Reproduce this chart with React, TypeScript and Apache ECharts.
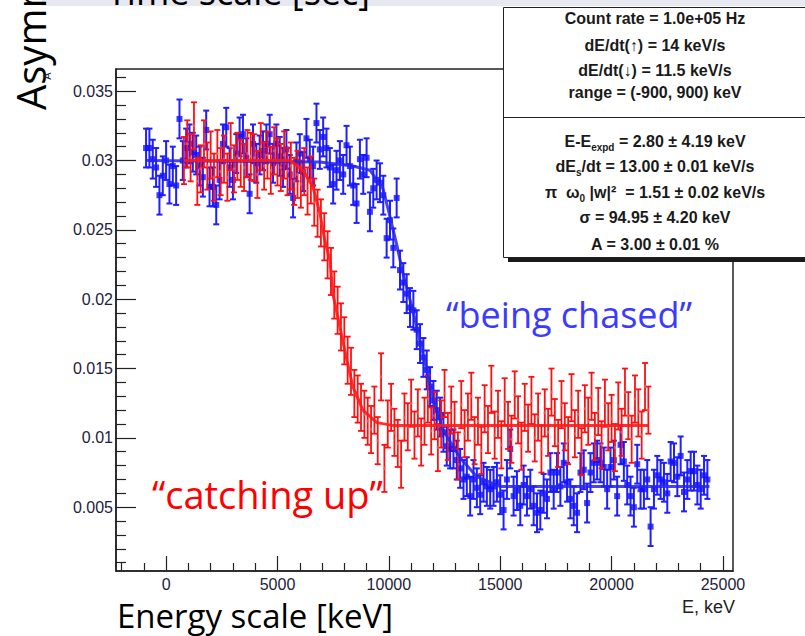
import React, { useEffect, useRef } from "react";
import * as echarts from "echarts";

// ---- data (E in keV, asymmetry) ----
const blueData: [number, number][] = [
  [-900,0.0309],[-750,0.0309],[-600,0.0301],[-450,0.0295],[-300,0.0275],[-150,0.0289],[0,0.0300],[150,0.0283],[300,0.0296],[450,0.0282],
  [600,0.0330],[750,0.0300],[900,0.0309],[1050,0.0312],[1200,0.0306],[1350,0.0304],[1500,0.0296],[1650,0.0288],[1800,0.0322],[1950,0.0281],
  [2100,0.0281],[2250,0.0268],[2400,0.0286],[2550,0.0312],[2700,0.0324],[2850,0.0295],[3000,0.0286],[3150,0.0305],[3300,0.0317],[3450,0.0319],
  [3600,0.0302],[3750,0.0276],[3900,0.0312],[4050,0.0298],[4200,0.0304],[4350,0.0307],[4500,0.0312],[4650,0.0319],[4800,0.0298],[4950,0.0312],
  [5100,0.0303],[5250,0.0295],[5400,0.0308],[5550,0.0290],[5700,0.0273],[5850,0.0299],[6000,0.0305],[6150,0.0292],[6300,0.0316],[6450,0.0301],
  [6600,0.0296],[6750,0.0327],[6900,0.0308],[7050,0.0317],[7200,0.0309],[7350,0.0295],[7500,0.0283],[7650,0.0293],[7800,0.0300],[7950,0.0290],
  [8100,0.0311],[8250,0.0296],[8400,0.0282],[8550,0.0269],[8700,0.0301],[8850,0.0290],[9000,0.0302],[9150,0.0263],[9300,0.0280],[9450,0.0286],
  [9600,0.0284],[9750,0.0275],[9900,0.0244],[10050,0.0257],[10200,0.0237],[10350,0.0273],[10500,0.0221],[10650,0.0212],[10800,0.0204],[10950,0.0194],
  [11100,0.0192],[11250,0.0178],[11400,0.0168],[11550,0.0158],[11700,0.0149],[11850,0.0137],[12000,0.0127],[12150,0.0120],[12300,0.0115],[12450,0.0104],
  [12600,0.0094],[12750,0.0092],[12900,0.0092],[13050,0.0084],[13200,0.0078],[13350,0.0070],[13500,0.0072],[13650,0.0058],[13800,0.0070],[13950,0.0064],
  [14100,0.0059],[14250,0.0068],[14400,0.0065],[14550,0.0063],[14700,0.0065],[14850,0.0068],[15000,0.0059],[15150,0.0048],[15300,0.0070],[15450,0.0092],
  [15600,0.0058],[15750,0.0062],[15900,0.0051],[16050,0.0066],[16200,0.0058],[16350,0.0063],[16500,0.0051],[16650,0.0046],[16800,0.0048],[16950,0.0060],
  [17100,0.0056],[17250,0.0075],[17400,0.0063],[17550,0.0075],[17700,0.0065],[17850,0.0082],[18000,0.0068],[18150,0.0056],[18300,0.0051],[18450,0.0046],
  [18600,0.0075],[18750,0.0077],[18900,0.0053],[19050,0.0075],[19200,0.0082],[19350,0.0084],[19500,0.0082],[19650,0.0079],[19800,0.0063],[19950,0.0079],
  [20100,0.0084],[20250,0.0058],[20400,0.0095],[20550,0.0083],[20700,0.0066],[20850,0.0058],[21000,0.0050],[21150,0.0081],[21300,0.0063],[21450,0.0063],
  [21600,0.0070],[21750,0.0036],[21900,0.0063],[22050,0.0073],[22200,0.0070],[22350,0.0068],[22500,0.0060],[22650,0.0083],[22800,0.0082],[22950,0.0072],
  [23100,0.0087],[23250,0.0061],[23400,0.0070],[23550,0.0076],[23700,0.0076],[23850,0.0066],[24000,0.0063],[24150,0.0073],[24300,0.0070],
];

const redData: [number, number][] = [
  [800,0.0300],[950,0.0312],[1100,0.0302],[1250,0.0325],[1400,0.0285],[1550,0.0294],[1700,0.0312],[1850,0.0296],[2000,0.0304],[2150,0.0288],
  [2300,0.0305],[2450,0.0292],[2600,0.0301],[2750,0.0288],[2900,0.0310],[3050,0.0294],[3200,0.0303],[3350,0.0298],[3500,0.0295],[3650,0.0305],
  [3800,0.0303],[3950,0.0302],[4100,0.0290],[4250,0.0310],[4400,0.0296],[4550,0.0304],[4700,0.0293],[4850,0.0307],[5000,0.0299],[5150,0.0295],
  [5300,0.0304],[5450,0.0292],[5600,0.0296],[5750,0.0285],[5900,0.0290],[6050,0.0283],[6200,0.0292],[6350,0.0278],[6500,0.0286],[6650,0.0270],
  [6800,0.0262],[6950,0.0255],[7100,0.0245],[7250,0.0232],[7400,0.0220],[7550,0.0203],[7700,0.0192],[7850,0.0180],[8000,0.0170],[8150,0.0156],
  [8300,0.0148],[8450,0.0132],[8600,0.0128],[8750,0.0122],[8900,0.0117],[9050,0.0112],[9200,0.0106],[9350,0.0120],[9500,0.0098],[9650,0.0144],
  [9800,0.0078],[9950,0.0110],[10100,0.0122],[10250,0.0104],[10400,0.0096],[10550,0.0081],[10700,0.0115],[10850,0.0108],[11000,0.0125],[11150,0.0102],
  [11300,0.0118],[11450,0.0097],[11600,0.0112],[11750,0.0128],[11900,0.0105],[12050,0.0116],[12200,0.0093],[12350,0.0110],[12500,0.0132],[12650,0.0101],
  [12800,0.0120],[12950,0.0109],[13100,0.0087],[13250,0.0124],[13400,0.0103],[13550,0.0115],[13700,0.0130],[13850,0.0098],[14000,0.0112],[14150,0.0091],
  [14300,0.0121],[14450,0.0106],[14600,0.0135],[14750,0.0102],[14900,0.0117],[15050,0.0095],[15200,0.0126],[15350,0.0109],[15500,0.0099],[15650,0.0131],
  [15800,0.0113],[15950,0.0094],[16100,0.0122],[16250,0.0107],[16400,0.0127],[16550,0.0100],[16700,0.0115],[16850,0.0092],[17000,0.0118],[17150,0.0104],
  [17300,0.0133],[17450,0.0111],[17600,0.0096],[17750,0.0124],[17900,0.0108],[18050,0.0098],[18200,0.0129],[18350,0.0103],[18500,0.0117],[18650,0.0090],
  [18800,0.0121],[18950,0.0112],[19100,0.0130],[19250,0.0101],[19400,0.0119],[19550,0.0095],[19700,0.0125],[19850,0.0108],[20000,0.0114],[20150,0.0093],
  [20300,0.0123],[20450,0.0104],[20600,0.0133],[20750,0.0116],[20900,0.0099],[21050,0.0128],[21200,0.0118],[21350,0.0102],[21500,0.0137],[21650,0.0120],
];

const blueFit: [number, number][] = [
  [-900,0.0300],[6900,0.0299],[8385,0.0296],[9147,0.0293],[9730,0.0280],[10044,0.0260],[10358,0.0239],[10627,0.0219],
  [11075,0.0192],[11703,0.0149],[11972,0.0129],[12421,0.0106],[13183,0.0086],[13945,0.0072],[14977,0.0065],[24393,0.0065],
];
const redFit: [number, number][] = [
  [800,0.0300],[5560,0.0300],[6143,0.0293],[6591,0.0281],[6905,0.0262],[7130,0.0242],[7354,0.0228],[7488,0.0204],
  [7802,0.0180],[8116,0.0156],[8385,0.0137],[8833,0.0120],[9461,0.0111],[10179,0.0109],[21650,0.0109],
];

const BLUE_ERR = 0.0014;
const RED_ERR = 0.0017;

const xMajor = [0, 5000, 10000, 15000, 20000, 25000];
const xMinor = [-2000, -1000, 1000, 2000, 3000, 4000, 6000, 7000, 8000, 9000, 11000, 12000, 13000, 14000, 16000, 17000, 18000, 19000, 21000, 22000, 23000, 24000];
const yMajor = [0.005, 0.01, 0.015, 0.02, 0.025, 0.03, 0.035];
const yMinor = [0.001, 0.002, 0.003, 0.004, 0.006, 0.007, 0.008, 0.009, 0.011, 0.012, 0.013, 0.014, 0.016, 0.017, 0.018, 0.019, 0.021, 0.022, 0.023, 0.024, 0.026, 0.027, 0.028, 0.029, 0.031, 0.032, 0.033, 0.034, 0.036];

const statsTop = [
  "Count rate = 1.0e+05 Hz",
  "dE/dt(\u2191) = 14 keV/s",
  "dE/dt(\u2193) = 11.5 keV/s",
  "range = (-900, 900) keV",
];
const statsBottom = [
  "{n|E-E}{s|expd}{n| = 2.80 \u00b1 4.19 keV}",
  "{n|dE}{s|s}{n|/dt = 13.00 \u00b1 0.01 keV/s}",
  "{n|\u03c0  \u03c9}{s|0}{n| |w|\u00b2  = 1.51 \u00b1 0.02 keV/s}",
  "{n|\u03c3 = 94.95 \u00b1 4.20 keV}",
  "{n|A = 3.00 \u00b1 0.01 %}",
];

const XMIN = -2250, XMAX = 25450, YMIN = 0.0004, YMAX = 0.0366;

function errSeries(data: [number, number][], err: number, color: string, lw: number, z: number) {
  return {
    type: "custom",
    z,
    data: data.map(([e, a]) => [e, a, err]),
    encode: { x: 0, y: 1 },
    renderItem: (params: any, api: any) => {
      const x = api.value(0), y = api.value(1), d = api.value(2);
      const top = api.coord([x, y + d]);
      const bot = api.coord([x, y - d]);
      const c = 3;
      const st = { stroke: color, lineWidth: lw };
      return {
        type: "group",
        children: [
          { type: "line", shape: { x1: top[0], y1: top[1], x2: bot[0], y2: bot[1] }, style: st },
          { type: "line", shape: { x1: top[0] - c, y1: top[1], x2: top[0] + c, y2: top[1] }, style: st },
          { type: "line", shape: { x1: bot[0] - c, y1: bot[1], x2: bot[0] + c, y2: bot[1] }, style: st },
        ],
      };
    },
  };
}

export default function App() {
  const ref = useRef<HTMLDivElement>(null);
  useEffect(() => {
    if (!ref.current) return;
    const chart = echarts.init(ref.current, undefined, { renderer: "svg" });
    const axisFont = { fontFamily: "Liberation Sans", fontSize: 16, color: "#22223a" };
    const statFont = { fontFamily: "Liberation Sans", fontSize: 16, fontWeight: "bold", fill: "#1a1a1a" };
    const graphics: any[] = [
      { type: "rect", shape: { x: 42, y: 0, width: 763, height: 6 }, style: { fill: "#e7e8f0" }, z: 10 },
      { type: "text", x: 107, y: 9, style: { text: "Time scale [sec]", fontFamily: "Open Sans", fontSize: 36, fill: "#000", textAlign: "left", textVerticalAlign: "bottom" }, z: 11 },
      { type: "text", x: 50, y: 110, rotation: Math.PI / 2, style: { text: "Asymmetry", fontFamily: "Open Sans", fontSize: 40, fill: "#000", textAlign: "left", textVerticalAlign: "bottom" }, z: 11 },
      { type: "text", x: 52, y: 76, rotation: Math.PI / 2, style: { text: "A", fontFamily: "Liberation Sans", fontSize: 11, fill: "#22223a", textAlign: "center", textVerticalAlign: "bottom" }, z: 11 },
      { type: "text", x: 117, y: 615, style: { text: "Energy scale [keV]", fontFamily: "Open Sans", fontSize: 33, fill: "#000", textAlign: "left", textVerticalAlign: "middle" }, z: 11 },
      { type: "text", x: 735, y: 607, style: { text: "E, keV", fontFamily: "Liberation Sans", fontSize: 18, fill: "#222", textAlign: "right", textVerticalAlign: "middle" }, z: 11 },
      { type: "text", x: 446, y: 314, style: { text: "\u201cbeing chased\u201d", fontFamily: "Open Sans", fontSize: 36, fill: "#3b3bff", textAlign: "left", textVerticalAlign: "middle" }, z: 11 },
      { type: "text", x: 152, y: 494, style: { text: "\u201ccatching up\u201d", fontFamily: "Open Sans", fontSize: 38, fill: "#ff0000", textAlign: "left", textVerticalAlign: "middle" }, z: 11 },
      // stats box
      { type: "rect", shape: { x: 508, y: 257, width: 300, height: 5 }, style: { fill: "#1a1a1a" }, z: 20 },
      { type: "rect", shape: { x: 503.5, y: 7.5, width: 310, height: 250 }, style: { fill: "#fff", stroke: "#222", lineWidth: 1 }, z: 21 },
      { type: "line", shape: { x1: 503.5, y1: 117.5, x2: 805, y2: 117.5 }, style: { stroke: "#222", lineWidth: 1 }, z: 22 },
    ];
    const topY = [18, 45, 70, 92];
    statsTop.forEach((t, i) => {
      graphics.push({ type: "text", x: 655, y: topY[i], style: { ...statFont, text: t, textAlign: "center", textVerticalAlign: "middle" }, z: 23 });
    });
    const botY = [142, 167, 193, 218, 245];
    statsBottom.forEach((t, i) => {
      graphics.push({
        type: "text", x: 655, y: botY[i] - 9,
        style: {
          text: t, textAlign: "center", textVerticalAlign: "top",
          rich: {
            n: { fontFamily: "Liberation Sans", fontSize: 16, fontWeight: "bold", fill: "#1a1a1a", verticalAlign: "top", lineHeight: 19 },
            s: { fontFamily: "Liberation Sans", fontSize: 10, fontWeight: "bold", fill: "#1a1a1a", verticalAlign: "top", lineHeight: 19, padding: [9, 0, 0, 0] },
          },
        },
        z: 23,
      });
    });

    chart.setOption({
      animation: false,
      backgroundColor: "#ffffff",
      grid: { left: 116, right: 72, top: 69, bottom: 65, show: true, borderColor: "#222", borderWidth: 1.5, backgroundColor: "transparent" },
      xAxis: [
        {
          type: "value", min: XMIN, max: XMAX, position: "bottom",
          axisLine: { show: true, onZero: false, lineStyle: { color: "#222", width: 1.5 } },
          axisTick: { show: true, inside: true, length: 15, customValues: xMajor, lineStyle: { color: "#222", width: 1.2 } },
          axisLabel: { ...axisFont, customValues: xMajor, margin: 5, formatter: (v: number) => String(v) },
          splitLine: { show: false },
        },
        {
          type: "value", min: XMIN, max: XMAX, position: "bottom",
          axisLine: { show: false, onZero: false },
          axisTick: { show: true, inside: true, length: 8, customValues: xMinor, lineStyle: { color: "#222", width: 1.2 } },
          axisLabel: { show: false },
          splitLine: { show: false },
        },
      ],
      yAxis: [
        {
          type: "value", min: YMIN, max: YMAX, position: "left",
          axisLine: { show: true, onZero: false, lineStyle: { color: "#222", width: 1.5 } },
          axisTick: { show: true, inside: true, length: 20, customValues: yMajor, lineStyle: { color: "#222", width: 1.2 } },
          axisLabel: { ...axisFont, customValues: yMajor, margin: 3, formatter: (v: number) => String(Number(v.toFixed(3))) },
          splitLine: { show: false },
        },
        {
          type: "value", min: YMIN, max: YMAX, position: "left",
          axisLine: { show: false, onZero: false },
          axisTick: { show: true, inside: true, length: 10, customValues: yMinor, lineStyle: { color: "#222", width: 1.2 } },
          axisLabel: { show: false },
          splitLine: { show: false },
        },
      ],
      series: [
        errSeries(blueData, BLUE_ERR, "#1f1fff", 2, 2),
        { type: "scatter", z: 3, data: blueData, symbol: "rect", symbolSize: 6, itemStyle: { color: "#1010ff" } },
        errSeries(redData, RED_ERR, "#ff1010", 1.8, 4),
        { type: "scatter", z: 5, data: redData, symbol: "circle", symbolSize: 3, itemStyle: { color: "rgba(255,110,110,0.7)" } },
        { type: "line", z: 6, data: blueFit, showSymbol: false, symbol: "none", lineStyle: { color: "#2424e8", width: 3, opacity: 0.85 } },
        { type: "line", z: 7, data: redFit, showSymbol: false, symbol: "none", lineStyle: { color: "#ff1a1a", width: 3, opacity: 0.9 } },
      ],
      graphic: graphics,
    });
    return () => chart.dispose();
  }, []);
  return <div ref={ref} style={{ position: "fixed", left: 0, top: 0, width: 805, height: 636 }} />;
}
